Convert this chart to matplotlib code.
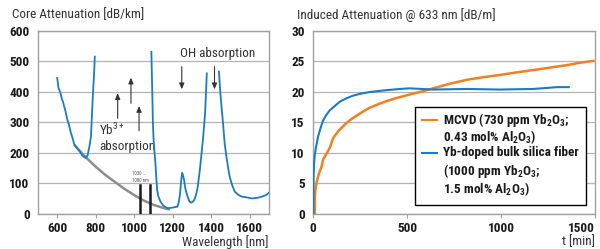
import matplotlib
matplotlib.use("Agg")
import matplotlib.pyplot as plt
from matplotlib import font_manager
from matplotlib.patches import Rectangle

# pick a condensed face if one is installed
names = {f.name for f in font_manager.fontManager.ttflist}
CANDIDATES = ["Roboto Condensed", "Archivo Narrow", "PT Sans Narrow", "Fira Sans Condensed",
              "IBM Plex Sans Condensed", "Barlow Semi Condensed", "Liberation Sans Narrow",
              "DejaVu Sans"]
FONT = next(n for n in CANDIDATES if n in names or n == "DejaVu Sans")
plt.rcParams["font.family"] = [FONT, "DejaVu Sans"]
plt.rcParams["mathtext.fontset"] = "custom"
plt.rcParams["mathtext.rm"] = FONT
plt.rcParams["mathtext.bf"] = FONT + ":bold"

BLUE = "#1b7cc4"
ORANGE = "#f47f20"
GRAY_CURVE = "#8d8d8d"
GRID = "#b4b4b4"
SPINE = "#a0a0a0"
TXT = "#333333"

# ---- left panel: core attenuation spectrum (dB/km) ----
seg1_nm = [600, 605, 608, 612, 617, 625, 630, 635, 640, 648, 653, 660, 670, 680, 688,
           700, 714, 732, 749, 758, 767, 775, 784, 793, 795]
seg1_db = [446, 420, 410, 405, 396, 375, 368, 355, 345, 322, 308, 295, 268, 248, 230,
           218, 208, 190, 183, 193, 221, 253, 374, 480, 516]
seg2_nm = [1089, 1093, 1097, 1100, 1105, 1110, 1115, 1119, 1125, 1137, 1150, 1172, 1190,
           1207, 1224, 1232, 1238, 1244, 1249, 1253, 1259, 1265, 1277, 1286, 1295, 1304,
           1312, 1322, 1330, 1340, 1350, 1357, 1363, 1368, 1373, 1377]
seg2_db = [532, 420, 300, 250, 205, 166, 115, 79, 58, 40, 28, 19, 20,
           22, 24, 40, 68, 110, 135, 128, 111, 85, 57, 42, 37, 40,
           46, 65, 90, 140, 200, 245, 290, 330, 400, 461]
seg3_nm = [1440, 1447, 1455, 1461, 1470, 1479, 1488, 1496, 1510, 1523, 1540, 1558, 1580,
           1611, 1640, 1663, 1685, 1700]
seg3_db = [467, 400, 340, 300, 230, 188, 150, 122, 92, 73, 63, 57, 55,
           51, 53, 57, 62, 70]
bg_nm = [690, 750, 800, 850, 900, 950, 1000, 1050, 1100, 1150, 1180]
bg_db = [225, 185, 155, 128, 105, 82, 62, 44, 30, 20, 15]
laser_nm = [1030, 1080]
laser_top = 95
yb_arrows = [(914, 314, 396), (983, 363, 447), (1025, 273, 354)]
oh_arrows = [(1247, 483, 409), (1417, 483, 409)]

# ---- right panel: induced attenuation at 633 nm (dB/m) ----
mcvd_t = [10, 10, 15, 20, 30, 46, 53, 70, 90, 106, 125, 144, 177, 206, 266, 300, 355, 400,
          443, 516, 580, 640, 720, 818, 900, 995, 1080, 1172, 1260, 1350, 1420, 1491]
mcvd_a = [0, 3.1, 4.5, 5.3, 6.5, 7.8, 8.9, 9.8, 10.9, 12.4, 13.2, 13.9, 14.9, 15.6, 16.8,
          17.4, 18.1, 18.6, 19.0, 19.6, 20.1, 20.6, 21.3, 22.0, 22.4, 22.8, 23.2, 23.6,
          24.0, 24.4, 24.8, 25.1]
bulk_t = [2, 3, 5, 9, 15, 20, 27, 37, 53, 70, 89, 108, 142, 180, 213, 250, 302, 390, 463,
          514, 640, 818, 995, 1172, 1300, 1360]
bulk_a = [0, 6.0, 8.0, 9.6, 10.8, 11.6, 12.7, 13.8, 15.3, 16.2, 17.0, 17.5, 18.4, 19.0,
          19.4, 19.7, 20.0, 20.3, 20.5, 20.6, 20.4, 20.5, 20.4, 20.5, 20.8, 20.8]

left_yticks = [0, 100, 200, 300, 400, 500, 600]
left_xticks = [600, 800, 1000, 1200, 1400, 1600]
right_yticks = [0, 5, 10, 15, 20, 25, 30]
right_xticks = [0, 500, 1000, 1500]

fig = plt.figure(figsize=(6.0, 2.49), dpi=100)
axL = fig.add_axes([0.0633, 0.1406, 0.385, 0.7349])
axR = fig.add_axes([0.5217, 0.1406, 0.470, 0.7349])


def style(ax, xticks, yticks):
    ax.set_xticks(xticks)
    ax.set_yticks(yticks)
    ax.yaxis.grid(True, color=GRID, lw=0.9)
    ax.set_axisbelow(True)
    for s in ax.spines.values():
        s.set_color(SPINE)
        s.set_linewidth(1.0)
    ax.tick_params(axis="x", length=3, width=0.8, color=SPINE, pad=3, labelsize=9.5,
                   labelcolor="#1a1a1a")
    ax.tick_params(axis="y", length=0, pad=6, labelsize=9.5, labelcolor="#1a1a1a")
    for lab in ax.get_xticklabels() + ax.get_yticklabels():
        lab.set_fontweight("bold")


# left panel
axL.set_xlim(500, 1700)
axL.set_ylim(0, 600)
style(axL, left_xticks, left_yticks)
axL.plot(bg_nm, bg_db, color=GRAY_CURVE, lw=1.8, solid_capstyle="round", zorder=2)
for x in laser_nm:
    axL.plot([x, x], [0, laser_top], color="#1a1a1a", lw=1.8, zorder=3)
for xs, ys in ((seg1_nm, seg1_db), (seg2_nm, seg2_db), (seg3_nm, seg3_db)):
    axL.plot(xs, ys, color=BLUE, lw=1.3, zorder=4)
for x, y0, y1 in yb_arrows + oh_arrows:
    axL.annotate("", xy=(x, y1), xytext=(x, y0),
                 arrowprops=dict(arrowstyle="-|>,head_length=0.35,head_width=0.15",
                                 color=TXT, lw=0.8, shrinkA=0, shrinkB=0))
axL.text(816, 275, "Yb$^{3+}$", fontsize=9.5, color=TXT, va="center", ha="left")
axL.text(816, 220, "absorption", fontsize=9.5, color=TXT, va="center", ha="left")
axL.text(1237, 527, "OH absorption", fontsize=9.5, color=TXT, va="center", ha="left")
axL.text(987, 133, "1030 ...", fontsize=3.5, color="#555555", va="center", ha="left")
axL.text(987, 109, "1080 nm", fontsize=3.5, color="#555555", va="center", ha="left")
fig.text(0.02, 0.94, "Core Attenuation [dB/km]", fontsize=9.5, color=TXT,
         va="center", ha="left")
fig.text(0.4483, 0.03, "Wavelength [nm]", fontsize=9.5, color=TXT,
         va="center", ha="right")

# right panel
axR.set_xlim(0, 1500)
axR.set_ylim(0, 30)
style(axR, right_xticks, right_yticks)
axR.get_xticklabels()[-1].set_horizontalalignment("right")
axR.plot(mcvd_t, mcvd_a, color=ORANGE, lw=1.8, zorder=3)
axR.plot(bulk_t, bulk_a, color=BLUE, lw=1.5, zorder=4)
fig.text(0.495, 0.94, "Induced Attenuation @ 633 nm [dB/m]", fontsize=9.5,
         color=TXT, va="center", ha="left")
fig.text(0.9917, 0.03, "t [min]", fontsize=9.5, color=TXT, va="center", ha="right")

# legend box, drawn by hand so the handles sit on the first text line
tr = axR.transAxes
axR.add_patch(Rectangle((0.361, 0.05), 0.608, 0.535, transform=tr, facecolor="white",
                        edgecolor="black", lw=1.0, zorder=6))
axR.plot([0.385, 0.44], [0.515, 0.515], transform=tr, color=ORANGE, lw=1.5, zorder=7)
axR.plot([0.385, 0.44], [0.335, 0.335], transform=tr, color=BLUE, lw=1.5, zorder=7)
leg_lines = [
    (0.515, r"MCVD (730 ppm Yb$_\mathbf{2}$O$_\mathbf{3}$;"),
    (0.418, r"0.43 mol% Al$_\mathbf{2}$O$_\mathbf{3}$)"),
    (0.335, "Yb-doped bulk silica fiber"),
    (0.235, r"(1000 ppm Yb$_\mathbf{2}$O$_\mathbf{3}$;"),
    (0.135, r"1.5 mol% Al$_\mathbf{2}$O$_\mathbf{3}$)"),
]
for y, s in leg_lines:
    axR.text(0.462, y, s, transform=tr, fontsize=9.5, fontweight="bold", color="#1a1a1a",
             va="center", ha="left", zorder=8)

fig.savefig("out.png", dpi=100)
